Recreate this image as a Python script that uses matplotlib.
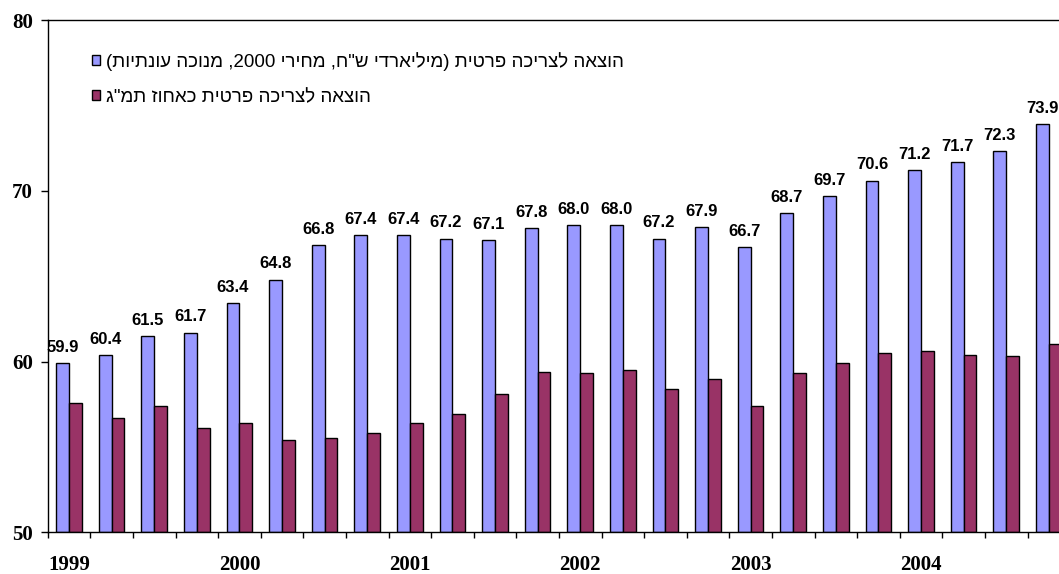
import matplotlib
matplotlib.use("Agg")
import matplotlib.pyplot as plt
from matplotlib.patches import Patch
import numpy as np
import re

# ---- data ----
years = ["1999", "2000", "2001", "2002", "2003", "2004"]
consumption = [59.9, 60.4, 61.5, 61.7, 63.4, 64.8, 66.8, 67.4, 67.4, 67.2, 67.1, 67.8,
               68.0, 68.0, 67.2, 67.9, 66.7, 68.7, 69.7, 70.6, 71.2, 71.7, 72.3, 73.9]
pct_gdp = [57.6, 56.7, 57.4, 56.1, 56.4, 55.4, 55.5, 55.8, 56.4, 56.9, 58.1, 59.4,
           59.3, 59.5, 58.4, 59.0, 57.4, 59.3, 59.9, 60.5, 60.6, 60.4, 60.3, 61.0]
series_names = ['הוצאה לצריכה פרטית (מיליארדי ש"ח, מחירי 2000, מנוכה עונתיות)',
                'הוצאה לצריכה פרטית כאחוז תמ"ג']
yticks = [50, 60, 70, 80]


def visual(s):
    """Convert logical RTL Hebrew string to visual LTR order for rendering."""
    r = s[::-1]
    r = r.translate(str.maketrans("()", ")("))
    r = re.sub(r"[0-9]+", lambda m: m.group(0)[::-1], r)
    return r


BLUE = "#9999FF"
MAROON = "#993366"

fig = plt.figure(figsize=(10.59, 5.74), dpi=100)
ax = fig.add_axes([47.7 / 1059, (574 - 532.3) / 574, 24 * 42.6 / 1059, (532.3 - 20) / 574])

n = len(consumption)
x = np.arange(n)
w = 0.30
ax.bar(x - w / 2, np.array(consumption) - 50, bottom=50, width=w, color=BLUE,
       edgecolor="black", linewidth=1.0)
ax.bar(x + w / 2, np.array(pct_gdp) - 50, bottom=50, width=w, color=MAROON,
       edgecolor="black", linewidth=1.0)

for xi, v in zip(x, consumption):
    ax.annotate(f"{v:.1f}", (xi - w / 2, v), xytext=(0, 8), textcoords="offset points",
                ha="center", va="baseline", fontsize=12, fontweight="bold",
                family=["Liberation Sans", "DejaVu Sans"])

ax.set_xlim(-0.5, n - 0.5)
ax.set_ylim(50, 80)

# y axis
ax.set_yticks(yticks)
ax.set_yticklabels([str(t) for t in yticks], fontsize=15, fontweight="bold",
                   family="Liberation Serif")
ax.tick_params(axis="y", direction="out", length=5, width=1, pad=5.5)

# x axis: ticks at group boundaries, year labels at group centres
ax.set_xticks(np.arange(-0.5, n, 1.0))
ax.set_xticklabels([])
ax.tick_params(axis="x", which="major", direction="out", length=4.5, width=1)
ax.set_xticks(np.arange(0, n, 4), minor=True)
ax.set_xticklabels(years, minor=True, fontsize=15, fontweight="bold",
                   family="Liberation Serif")
ax.tick_params(axis="x", which="minor", length=0, pad=16)

for sp in ax.spines.values():
    sp.set_linewidth(1.0)

handles = [Patch(facecolor=BLUE, edgecolor="black", linewidth=1.0),
           Patch(facecolor=MAROON, edgecolor="black", linewidth=1.0)]
leg = fig.legend(handles, [visual(s) for s in series_names], loc="upper left",
                 bbox_to_anchor=(92 / 1059, 1 - 52 / 574), frameon=False,
                 handlelength=0.45, handleheight=0.45, handletextpad=0.3,
                 labelspacing=0.95, borderaxespad=0, borderpad=0,
                 prop={"family": ["Liberation Sans", "DejaVu Sans"], "size": 13.5})

fig.savefig("out.png", dpi=100)
